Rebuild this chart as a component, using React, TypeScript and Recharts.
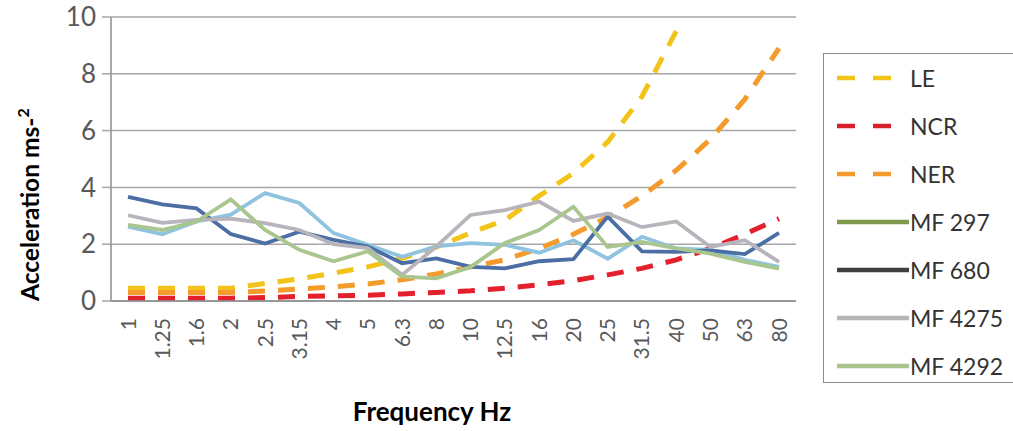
import React from 'react';
import { LineChart, Line, XAxis, YAxis, CartesianGrid, Legend } from 'recharts';

const frequencies = ['1', '1.25', '1.6', '2', '2.5', '3.15', '4', '5', '6.3', '8', '10', '12.5', '16', '20', '25', '31.5', '40', '50', '63', '80'];

const le = [0.45, 0.45, 0.45, 0.45, 0.62, 0.78, 0.98, 1.2, 1.5, 1.9, 2.4, 2.85, 3.7, 4.5, 5.6, 7.2, 9.5, null, null, null];
const ncr = [0.1, 0.1, 0.1, 0.1, 0.12, 0.16, 0.18, 0.2, 0.25, 0.3, 0.36, 0.45, 0.57, 0.72, 0.92, 1.15, 1.45, 1.85, 2.35, 2.9];
const ner = [0.3, 0.3, 0.3, 0.3, 0.35, 0.42, 0.5, 0.6, 0.75, 0.95, 1.2, 1.45, 1.85, 2.35, 2.95, 3.7, 4.6, 5.7, 7.1, 8.9];
const mf297 = [2.62, 2.35, 2.8, 3.04, 3.8, 3.45, 2.39, 1.98, 1.56, 1.92, 2.04, 1.98, 1.7, 2.14, 1.49, 2.26, 1.85, 1.8, 1.45, 1.2];
const mf680 = [3.67, 3.4, 3.26, 2.36, 2.02, 2.44, 2.15, 1.92, 1.33, 1.5, 1.2, 1.15, 1.4, 1.47, 2.97, 1.75, 1.73, 1.78, 1.65, 2.4];
const mf4275 = [3.02, 2.75, 2.86, 2.9, 2.74, 2.5, 2.0, 1.86, 0.92, 1.92, 3.03, 3.2, 3.5, 2.82, 3.08, 2.6, 2.8, 1.9, 2.14, 1.38];
const mf4292 = [2.68, 2.5, 2.8, 3.58, 2.5, 1.8, 1.4, 1.75, 0.86, 0.8, 1.2, 2.04, 2.5, 3.32, 1.9, 2.08, 1.85, 1.67, 1.38, 1.14];

const yTicks = [0, 2, 4, 6, 8, 10];

type Series = { key: string; values: (number | null)[]; color: string; legendColor: string; dashed: boolean };

const series: Series[] = [
  { key: 'LE', values: le, color: '#F2C41A', legendColor: '#F2C41A', dashed: true },
  { key: 'NCR', values: ncr, color: '#E3202B', legendColor: '#D8202B', dashed: true },
  { key: 'NER', values: ner, color: '#F39B2C', legendColor: '#F39B2C', dashed: true },
  { key: 'MF 297', values: mf297, color: '#8FC3DF', legendColor: '#7F9A4C', dashed: false },
  { key: 'MF 680', values: mf680, color: '#4B6FA5', legendColor: '#3F3F3F', dashed: false },
  { key: 'MF 4275', values: mf4275, color: '#B7B4BC', legendColor: '#B5B5B5', dashed: false },
  { key: 'MF 4292', values: mf4292, color: '#A9C68F', legendColor: '#A9C48E', dashed: false },
];

const data = frequencies.map((f, i) => {
  const row: Record<string, any> = { freq: f };
  series.forEach((s) => {
    row[s.key] = s.values[i];
  });
  return row;
});

const FONT = 'Lato, "Open Sans", sans-serif';

const XTick = (props: any) => {
  const { x, y, payload } = props;
  return (
    <text
      x={x}
      y={y}
      transform={`rotate(-90, ${x}, ${y})`}
      textAnchor="end"
      dy="0.36em"
      fontFamily={FONT}
      fontSize={21}
      fill="#595959"
    >
      {payload.value}
    </text>
  );
};

const YTitle = () => (
  <text x={39} y={301} transform="rotate(-90, 39, 301)" textAnchor="start" fontFamily={FONT} fontWeight={700} fontSize={24.5} fill="#000">
    <tspan>Acceleration ms-</tspan>
    <tspan dy={-10} fontSize={16}>2</tspan>
  </text>
);

const XTitle = () => (
  <text x={432} y={421} textAnchor="middle" fontFamily={FONT} fontWeight={700} fontSize={26} fill="#000">
    Frequency Hz
  </text>
);

const renderLegend = () => (
  <div
    style={{
      position: 'relative',
      width: 192,
      height: 330,
      border: '1.5px solid #8a8a8a',
      boxSizing: 'border-box',
      background: '#fff',
      fontFamily: FONT,
      fontSize: 23,
      color: '#333',
    }}
  >
    {series.map((s, i) => (
      <div
        key={s.key}
        style={{ position: 'absolute', left: 13, top: 24 + i * 48 - 15, height: 30, display: 'flex', alignItems: 'center', whiteSpace: 'nowrap' }}
      >
        <svg width={73} height={10} style={{ display: 'block' }}>
          {s.dashed ? (
            <line x1={0} y1={5} x2={56} y2={5} stroke={s.legendColor} strokeWidth={4.5} strokeDasharray="18 18" />
          ) : (
            <line x1={0} y1={5} x2={72} y2={5} stroke={s.legendColor} strokeWidth={4.5} />
          )}
        </svg>
        <span style={{ marginLeft: 0, lineHeight: '30px' }}>{s.key}</span>
      </div>
    ))}
  </div>
);

export default function App() {
  return (
    <div style={{ position: 'absolute', left: 0, top: 0, width: 1013, height: 431, background: '#fff' }}>
      <LineChart width={1013} height={431} data={data} margin={{ top: 17, right: 25, bottom: 0, left: 0 }}>
        <CartesianGrid horizontal vertical={false} stroke="#a6a6a6" strokeWidth={1.5} />
        <XAxis
          dataKey="freq"
          type="category"
          interval={0}
          height={130}
          padding={{ left: 17, right: 17 }}
          tickLine={false}
          tickSize={0}
          tickMargin={17}
          axisLine={{ stroke: '#8c8c8c', strokeWidth: 1.5 }}
          tick={<XTick />}
          label={<XTitle />}
        />
        <YAxis
          type="number"
          domain={[0, 10]}
          ticks={yTicks}
          width={111}
          allowDataOverflow
          tickSize={9}
          tickMargin={6}
          tickLine={{ stroke: '#a6a6a6', strokeWidth: 1.5 }}
          axisLine={{ stroke: '#8c8c8c', strokeWidth: 1.5 }}
          tick={{ fontFamily: FONT, fontSize: 26, fill: '#595959' }}
          label={<YTitle />}
        />
        <Legend
          layout="vertical"
          align="right"
          verticalAlign="top"
          content={renderLegend}
          wrapperStyle={{ left: 823, top: 53, width: 192, height: 330 }}
        />
        {series.map((s) => (
          <Line
            key={s.key}
            dataKey={s.key}
            type="linear"
            stroke={s.color}
            strokeWidth={s.dashed ? 5 : 3.8}
            strokeDasharray={s.dashed ? '17 13' : undefined}
            dot={false}
            activeDot={false}
            isAnimationActive={false}
            connectNulls={false}
          />
        ))}
      </LineChart>
    </div>
  );
}
